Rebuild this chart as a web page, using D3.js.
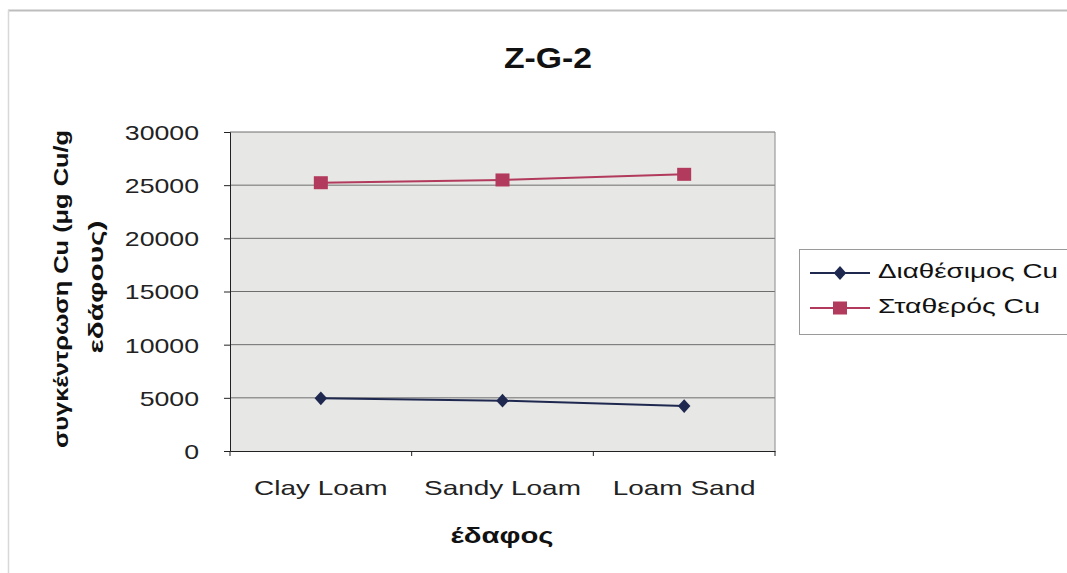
<!DOCTYPE html>
<html><head><meta charset="utf-8">
<script src="https://cdn.jsdelivr.net/npm/d3@7"></script>
<style>body{margin:0;background:#fff}svg{display:block}text{font-family:"Liberation Sans",Arial,sans-serif}</style>
</head><body><svg id="c" width="1067" height="573"></svg>
<script>
const categories = ["Clay Loam", "Sandy Loam", "Loam Sand"];
const availableCu = [4955, 4730, 4230];
const stableCu = [25230, 25490, 26020];
const seriesNames = ["Διαθέσιμος Cu", "Σταθερός Cu"];
const yTicks = [0, 5000, 10000, 15000, 20000, 25000, 30000];
const title = "Z-G-2";
const yTitle = ["συγκέντρωση Cu (μg Cu/g", "εδάφους)"];
const xTitle = "έδαφος";

const svg = d3.select("#c");
const L = 230, R = 775, T = 132, B = 451;
const x = d3.scaleBand().domain(categories).range([L, R]);
const y = d3.scaleLinear().domain([0, 30000]).range([B, T]);
function stretch(sel, f) {
  sel.each(function(){
    const len = this.getComputedTextLength();
    d3.select(this).attr("textLength", len*f).attr("lengthAdjust","spacingAndGlyphs");
  });
}
function fit(sel, w) {
  sel.attr("textLength", w).attr("lengthAdjust","spacingAndGlyphs");
}

// outer frame (top and left visible)
svg.append("line").attr("x1",8).attr("x2",1067).attr("y1",10.5).attr("y2",10.5).attr("stroke","#bdbdbd").attr("stroke-width",2);
svg.append("line").attr("x1",8.5).attr("x2",8.5).attr("y1",10).attr("y2",573).attr("stroke","#d8d8d8").attr("stroke-width",1.5);

// plot bg
svg.append("rect").attr("x",L).attr("y",T).attr("width",R-L).attr("height",B-T).attr("fill","#e7e7e5");
// grid
svg.append("g").selectAll("line").data(yTicks.filter(d=>d>0)).join("line")
  .attr("x1",L).attr("x2",R).attr("y1",d=>y(d)).attr("y2",d=>y(d)).attr("stroke","#6e6e6e").attr("stroke-width",1);
svg.append("line").attr("x1",R).attr("x2",R).attr("y1",T).attr("y2",B).attr("stroke","#8a8a8a");

// y axis
const ya = svg.append("g").attr("transform",`translate(${L},0)`)
  .call(d3.axisLeft(y).tickValues(yTicks).tickSize(6).tickPadding(25).tickFormat(d3.format("d")));
ya.select(".domain").attr("stroke","#222");
ya.selectAll(".tick line").attr("stroke","#222");
ya.selectAll("text").attr("font-size",21).attr("fill","#222").attr("dy","0.35em").attr("font-family","Liberation Sans, Arial, sans-serif").call(stretch, 1.27);

// x axis
const xa = svg.append("g").attr("transform",`translate(0,${B})`)
  .call(d3.axisBottom(x).tickSize(0).tickPadding(29));
xa.select(".domain").attr("stroke","#222");
xa.selectAll("text").attr("font-size",21).attr("fill","#222").attr("font-family","Liberation Sans, Arial, sans-serif").call(stretch, 1.33);
const bounds = categories.map(c=>x(c)).concat([R]);
svg.append("g").selectAll("line").data(bounds).join("line")
  .attr("x1",d=>d).attr("x2",d=>d).attr("y1",B).attr("y2",B+5).attr("stroke","#222");

// series
const cx = c => x(c) + x.bandwidth()/2;
const line = d3.line().x((d,i)=>cx(categories[i])).y(d=>y(d));
const blue = "#1f2950", red = "#b23a5c";
svg.append("path").datum(stableCu).attr("d",line).attr("fill","none").attr("stroke",red).attr("stroke-width",2);
svg.append("path").datum(availableCu).attr("d",line).attr("fill","none").attr("stroke",blue).attr("stroke-width",2);
svg.append("g").selectAll("rect").data(stableCu).join("rect")
  .attr("x",(d,i)=>cx(categories[i])-7).attr("y",d=>y(d)-6.5).attr("width",14).attr("height",13).attr("fill",red);
const diamond = d3.symbol().type(d3.symbolDiamond2).size(100);
svg.append("g").selectAll("path").data(availableCu).join("path")
  .attr("d",diamond).attr("transform",(d,i)=>`translate(${cx(categories[i])},${y(d)}) scale(1,1.1)`).attr("fill",blue);

// title
svg.append("text").attr("x",548).attr("y",68).attr("text-anchor","middle").attr("font-size",30).attr("font-weight","bold").attr("fill","#111").text(title).call(fit, 88);

// y title
svg.append("text").attr("transform","translate(68,289) rotate(-90)").attr("text-anchor","middle")
  .attr("font-size",21).attr("font-weight","bold").attr("fill","#111").text(yTitle[0]).call(fit, 318);
svg.append("text").attr("transform","translate(103,287) rotate(-90)").attr("text-anchor","middle")
  .attr("font-size",21).attr("font-weight","bold").attr("fill","#111").text(yTitle[1]).call(fit, 133);

// x title
svg.append("text").attr("x",502).attr("y",543).attr("text-anchor","middle").attr("font-size",22).attr("font-weight","bold").attr("fill","#111").text(xTitle).call(fit, 103);

// legend
const lg = svg.append("g");
lg.append("rect").attr("x",799.5).attr("y",249.5).attr("width",270).attr("height",85).attr("fill","#fff").attr("stroke","#9a9a9a");
const items = [{n:seriesNames[0],c:blue,t:"d",w:180},{n:seriesNames[1],c:red,t:"s",w:162}];
items.forEach((it,i)=>{
  const yy = 273 + i*35;
  lg.append("line").attr("x1",810).attr("x2",870).attr("y1",yy).attr("y2",yy).attr("stroke",it.c).attr("stroke-width",2);
  if(it.t==="d") lg.append("path").attr("d",diamond).attr("transform",`translate(840,${yy}) scale(1,1.1)`).attr("fill",it.c);
  else lg.append("rect").attr("x",833).attr("y",yy-6.5).attr("width",14).attr("height",13).attr("fill",it.c);
  lg.append("text").attr("x",878).attr("y",yy+5).attr("font-size",21).attr("fill","#111").text(it.n).call(fit, it.w);
});
</script></body></html>
